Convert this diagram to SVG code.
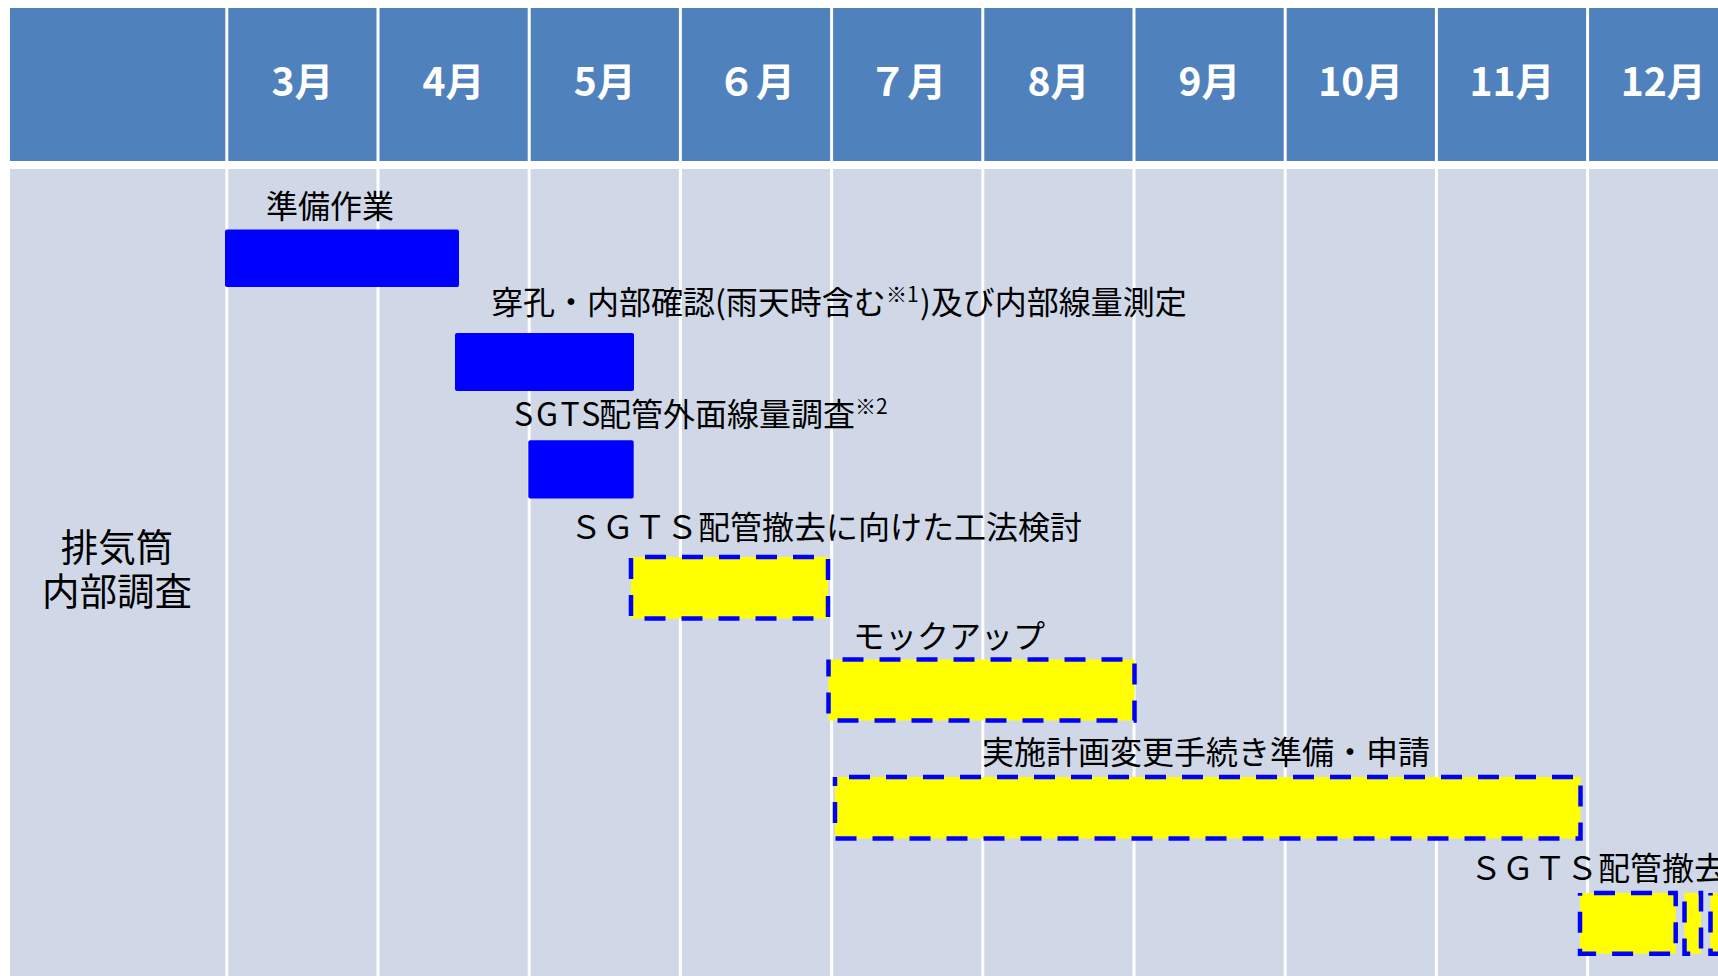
<svg xmlns="http://www.w3.org/2000/svg" width="1718" height="976" viewBox="0 0 1718 976">
<defs>
<style>
.hdr{fill:#4F81BD}
.body{fill:#D0D8E8}
.vl{stroke:#FFFFFF;stroke-width:3}
.mon{font-family:"Noto Sans CJK JP","Noto Sans",sans-serif;font-weight:700;font-size:39px;fill:#FFFFFF;text-anchor:middle}
.lbl{font-family:"Noto Sans CJK JP","Noto Sans",sans-serif;font-size:32px;fill:#000000}
.side{font-family:"Noto Sans CJK JP","Noto Sans",sans-serif;font-size:37.5px;fill:#000000;text-anchor:middle}
.done{fill:#0000FF}
.plan{fill:#FFFF00;stroke:#0000FF;stroke-width:4.5;stroke-dasharray:21 16;stroke-dashoffset:23}
.sup{font-size:21px}
</style>
</defs>
<rect width="1718" height="976" fill="#FFFFFF"/>
<g id="grid">
<rect class="hdr" x="10" y="8" width="1708" height="153"/>
<rect class="body" x="10" y="169" width="1708" height="807"/>
<g id="grid-lines">
<line class="vl" x1="226.8" y1="8" x2="226.8" y2="976"/>
<line class="vl" x1="378" y1="8" x2="378" y2="976"/>
<line class="vl" x1="529.2" y1="8" x2="529.2" y2="976"/>
<line class="vl" x1="680.4" y1="8" x2="680.4" y2="976"/>
<line class="vl" x1="831.6" y1="8" x2="831.6" y2="976"/>
<line class="vl" x1="982.8" y1="8" x2="982.8" y2="976"/>
<line class="vl" x1="1134" y1="8" x2="1134" y2="976"/>
<line class="vl" x1="1285.2" y1="8" x2="1285.2" y2="976"/>
<line class="vl" x1="1436.4" y1="8" x2="1436.4" y2="976"/>
<line class="vl" x1="1587.6" y1="8" x2="1587.6" y2="976"/>
</g>
</g>
<g id="months">
<text class="mon" x="302.4" y="96">3月</text>
<text class="mon" x="453.6" y="96">4月</text>
<text class="mon" x="604.8" y="96">5月</text>
<text class="mon" x="756" y="96">６月</text>
<text class="mon" x="907.2" y="96">７月</text>
<text class="mon" x="1058.4" y="96">8月</text>
<text class="mon" x="1209.6" y="96">9月</text>
<text class="mon" x="1360.8" y="96">10月</text>
<text class="mon" x="1512" y="96">11月</text>
<text class="mon" x="1663.2" y="96">12月</text>
</g>
<g id="row-label">
<text class="side" x="117" y="561"><tspan x="117" y="561">排気筒</tspan><tspan x="117" y="605">内部調査</tspan></text>
</g>
<g id="connectors"></g>
<g id="task1">
<rect class="done" x="225" y="229.5" width="234" height="57.5" rx="2"/>
<text class="lbl" x="266" y="217.5">準備作業</text>
</g>
<g id="task2">
<rect class="done" x="455" y="333" width="179" height="58" rx="2"/>
<text class="lbl" x="491" y="314">穿孔・内部確認(雨天時含む<tspan class="sup" x="886" y="302">※1</tspan><tspan x="920" y="314">)及び内部線量測定</tspan></text>
</g>
<g id="task3">
<rect class="done" x="528.3" y="440.3" width="105.4" height="58.3" rx="2"/>
<text class="lbl" x="514" y="426"><tspan letter-spacing="3">SGTS</tspan><tspan x="599" y="426">配管外面線量調査</tspan><tspan class="sup" x="855" y="414">※2</tspan></text>
</g>
<g id="task4">
<rect class="plan" x="631" y="557" width="197" height="61.5"/>
<text class="lbl" x="570" y="538.5">ＳＧＴＳ配管撤去に向けた工法検討</text>
</g>
<g id="task5">
<rect class="plan" x="828.5" y="659.5" width="306" height="61"/>
<text class="lbl" x="853" y="647.5">モックアップ</text>
</g>
<g id="task6">
<rect class="plan" x="835" y="777" width="745.5" height="61.5"/>
<text class="lbl" x="982" y="763.5">実施計画変更手続き準備・申請</text>
</g>
<g id="task7">
<rect class="plan" x="1580" y="893" width="95.7" height="60.7"/>
<rect class="plan" x="1684.5" y="893" width="16.5" height="60.7"/>
<rect class="plan" x="1710.5" y="893" width="40" height="60.7"/>
<text class="lbl" x="1470" y="879.5">ＳＧＴＳ配管撤去</text>
</g>
</svg>
